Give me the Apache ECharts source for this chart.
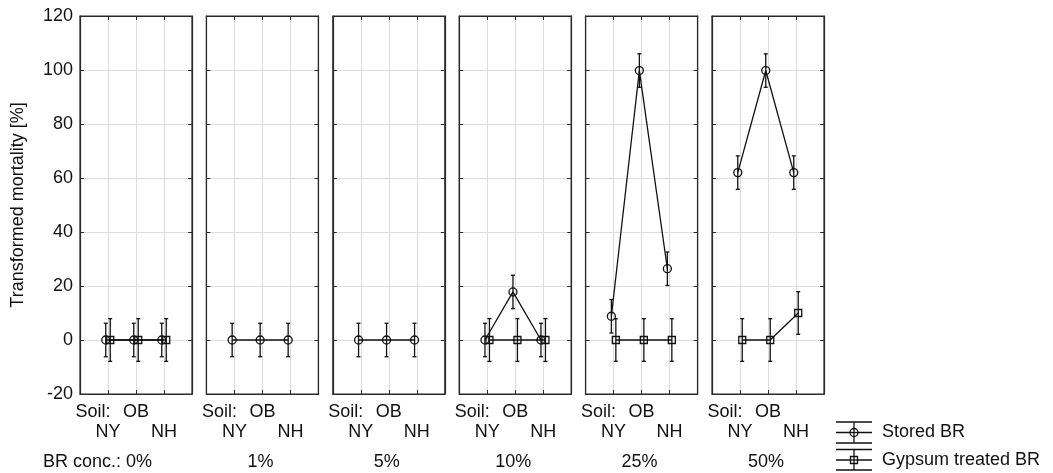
<!DOCTYPE html>
<html><head><meta charset="utf-8">
<script src="https://cdn.jsdelivr.net/npm/echarts@6/dist/echarts.min.js"></script>
<style>html,body{margin:0;padding:0;background:#fff}#c{width:1053px;height:473px}</style>
</head><body><div id="c"></div>
<script>
const categories = ['NY', 'OB', 'NH'];
const concentrations = ['0%', '1%', '5%', '10%', '25%', '50%'];
const storedBR = [[0, 0, 0], [0, 0, 0], [0, 0, 0], [0, 17.8, 0], [8.8, 99.8, 26.4], [62, 99.8, 62]];
const storedErr = [[6.2, 6.2, 6.2], [6.2, 6.2, 6.2], [6.2, 6.2, 6.2], [6.2, 6.2, 6.2], [6.2, 6.2, 6.2], [6.2, 6.2, 6.2]];
const gypsumBR = [[0, 0, 0], null, null, [0, 0, 0], [0, 0, 0], [0, 0, 10]];
const gypsumErr = [[7.9, 7.9, 7.9], null, null, [7.9, 7.9, 7.9], [7.9, 7.9, 7.9], [7.9, 7.9, 7.9]];
const yTicks = { min: -20, max: 120, interval: 20 };

const FONT = "'Liberation Sans', Arial, sans-serif";
const FS = 18;
const INK = '#111';
const FRAME = '#2a2a2a';
const P0 = 80, STEP = 126.4, PW = 112, TOP = 16, PH = 378;
const DODGE = 0.08;

const grids = [], xAxes = [], yAxes = [], series = [], graphics = [];

function errorSeries(i, vals, errs, dx) {
  return {
    type: 'custom', xAxisIndex: 2 * i, yAxisIndex: 2 * i, silent: true, z: 3,
    data: vals.map((v, k) => [k + 1 + dx, v, errs[k]]),
    renderItem: function (params, api) {
      const x = api.value(0), y = api.value(1), e = api.value(2);
      const p1 = api.coord([x, y + e]), p2 = api.coord([x, y - e]);
      const st = { stroke: INK, lineWidth: 1.3 };
      return { type: 'group', children: [
        { type: 'line', shape: { x1: p1[0], y1: p1[1], x2: p2[0], y2: p2[1] }, style: st },
        { type: 'line', shape: { x1: p1[0] - 2, y1: p1[1], x2: p1[0] + 2, y2: p1[1] }, style: st },
        { type: 'line', shape: { x1: p2[0] - 2, y1: p2[1], x2: p2[0] + 2, y2: p2[1] }, style: st }
      ]};
    }
  };
}

function tick() { return { show: true, inside: true, length: 4, lineStyle: { color: FRAME, width: 1 } }; }

concentrations.forEach((conc, i) => {
  const left = P0 + i * STEP;
  grids.push({ left: left, top: TOP, width: PW, height: PH, show: true,
    borderColor: FRAME, borderWidth: 1.2, backgroundColor: '#fff' });
  xAxes.push({
    gridIndex: i, type: 'value', min: 0, max: 4, interval: 1, position: 'bottom',
    axisLine: { show: true, onZero: false, lineStyle: { color: FRAME, width: 1.2 } },
    axisTick: tick(),
    splitLine: { show: true, lineStyle: { color: '#dddddd', width: 1 } },
    axisLabel: {
      show: true, margin: 7.5, color: INK, fontFamily: FONT, fontSize: FS, lineHeight: 20.5,
      formatter: function (v) {
        if (v === 1) return '\n' + categories[0];
        if (v === 2) return categories[1] + '\n';
        if (v === 3) return '\n' + categories[2];
        return '';
      }
    }
  });
  xAxes.push({
    gridIndex: i, type: 'value', min: 0, max: 4, interval: 1, position: 'top',
    axisLine: { show: true, onZero: false, lineStyle: { color: FRAME, width: 1.2 } },
    splitLine: { show: false }, axisLabel: { show: false },
    axisTick: tick()
  });
  yAxes.push({
    gridIndex: i, type: 'value', min: yTicks.min, max: yTicks.max, interval: yTicks.interval,
    position: 'left',
    axisLine: { show: true, onZero: false, lineStyle: { color: FRAME, width: 1.2 } },
    axisTick: tick(),
    splitLine: { show: true, lineStyle: { color: '#dddddd', width: 1 } },
    axisLabel: { show: i === 0, color: INK, fontFamily: FONT, fontSize: FS, margin: 7 },
    name: i === 0 ? 'Transformed mortality [%]' : '',
    nameLocation: 'middle', nameGap: 53,
    nameTextStyle: { color: INK, fontFamily: FONT, fontSize: FS }
  });
  yAxes.push({
    gridIndex: i, type: 'value', min: yTicks.min, max: yTicks.max, interval: yTicks.interval,
    position: 'right',
    axisLine: { show: true, onZero: false, lineStyle: { color: FRAME, width: 1.2 } },
    splitLine: { show: false }, axisLabel: { show: false },
    axisTick: tick()
  });

  series.push(errorSeries(i, storedBR[i], storedErr[i], -DODGE));
  series.push({
    name: 'Stored BR', type: 'line', xAxisIndex: 2 * i, yAxisIndex: 2 * i, z: 4,
    data: storedBR[i].map((v, k) => [k + 1 - DODGE, v]),
    symbol: 'circle', symbolSize: 8, showAllSymbol: true,
    itemStyle: { color: 'rgba(0,0,0,0)', borderColor: INK, borderWidth: 1.3 },
    lineStyle: { color: INK, width: 1.3 }, animation: false
  });
  if (gypsumBR[i]) {
    series.push(errorSeries(i, gypsumBR[i], gypsumErr[i], DODGE));
    series.push({
      name: 'Gypsum treated BR', type: 'line', xAxisIndex: 2 * i, yAxisIndex: 2 * i, z: 4,
      data: gypsumBR[i].map((v, k) => [k + 1 + DODGE, v]),
      symbol: 'rect', symbolSize: 7, showAllSymbol: true,
      itemStyle: { color: 'rgba(0,0,0,0)', borderColor: INK, borderWidth: 1.3 },
      lineStyle: { color: INK, width: 1.3 }, animation: false
    });
  }

  graphics.push({ type: 'text', x: left - 4.5, y: 412,
    style: { text: 'Soil:', fill: INK, font: FS + 'px ' + FONT, textVerticalAlign: 'middle' } });
  if (i === 0) {
    graphics.push({ type: 'text', x: 43, y: 462,
      style: { text: 'BR conc.: ' + conc, fill: INK, font: FS + 'px ' + FONT, textVerticalAlign: 'middle' } });
  } else {
    graphics.push({ type: 'text', x: left + 54, y: 462,
      style: { text: conc, fill: INK, font: FS + 'px ' + FONT, textAlign: 'center', textVerticalAlign: 'middle' } });
  }
});

function legendItem(cy, shape, label, topCap, botCap) {
  const st = { stroke: INK, lineWidth: 1.3 };
  const items = [
    { type: 'line', shape: { x1: 836, y1: topCap, x2: 872, y2: topCap }, style: st },
    { type: 'line', shape: { x1: 836, y1: botCap, x2: 872, y2: botCap }, style: st },
    { type: 'line', shape: { x1: 836, y1: cy, x2: 872, y2: cy }, style: st },
    { type: 'line', shape: { x1: 854, y1: topCap, x2: 854, y2: botCap }, style: st },
    { type: 'text', x: 882, y: cy, style: { text: label, fill: INK, font: FS + 'px ' + FONT, textVerticalAlign: 'middle' } }
  ];
  if (shape === 'circle') items.push({ type: 'circle', shape: { cx: 854, cy: cy, r: 4 }, style: { fill: '#fff', stroke: INK, lineWidth: 1.3 } });
  else items.push({ type: 'rect', shape: { x: 850.5, y: cy - 3.5, width: 7, height: 7 }, style: { fill: '#fff', stroke: INK, lineWidth: 1.3 } });
  const h = shape === 'circle' ? 4 : 3.5;
  items.push({ type: 'line', shape: { x1: 854, y1: cy - h, x2: 854, y2: cy + h }, style: st });
  items.push({ type: 'line', shape: { x1: 854 - h, y1: cy, x2: 854 + h, y2: cy }, style: st });
  return items;
}
legendItem(432.5, 'circle', 'Stored BR', 422, 443).forEach(g => graphics.push(g));
legendItem(460, 'rect', 'Gypsum treated BR', 449.5, 470).forEach(g => graphics.push(g));

const chart = echarts.init(document.getElementById('c'), null, { renderer: 'canvas' });
chart.setOption({
  backgroundColor: '#fff',
  animation: false,
  textStyle: { fontFamily: FONT },
  grid: grids, xAxis: xAxes, yAxis: yAxes, series: series, graphic: graphics
});
</script></body></html>
